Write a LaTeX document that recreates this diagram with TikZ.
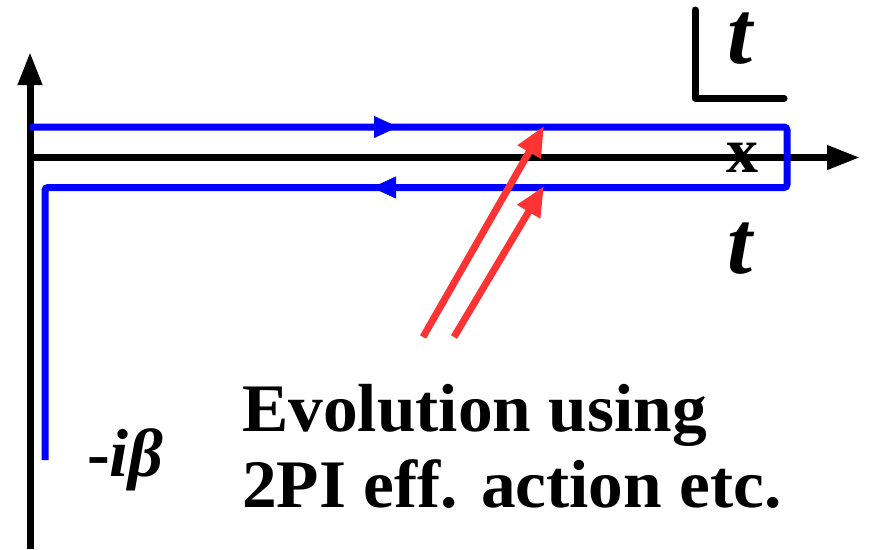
\documentclass[tikz,border=0pt]{standalone}
\usepackage{fontspec}
\setmainfont{Liberation Serif}
\usetikzlibrary{arrows.meta}
\definecolor{contour}{RGB}{0,0,255}
\definecolor{pointer}{RGB}{255,51,51}
\begin{document}
\begin{tikzpicture}[x=1pt,y=-1pt,
  axis/.style={line width=7pt,black,-{Triangle[length=33pt,width=23pt]}},
  contourline/.style={line width=7pt,contour,rounded corners=3pt},
  flowtip/.style={contour,-{Triangle[length=24pt,width=22pt]}},
  pointerarrow/.style={line width=7pt,pointer,-{Triangle[length=30pt,width=25pt]}},
  label/.style={inner sep=0pt,anchor=base west},
  bigtext/.style={label,font=\fontsize{68}{68}\selectfont\bfseries,xscale=1.02}]
\useasboundingbox (0,0) rectangle (869,549);

% coordinate axes
\coordinate (vbot) at (30,549);
\coordinate (vtop) at (30,52);
\coordinate (hstart) at (30,157.5);
\coordinate (hend) at (860,157.5);
\draw[axis] (vbot) -- (vtop);
\draw[axis] (hstart) -- (hend);

% closed time path
\coordinate (c0) at (30,127);
\coordinate (c1) at (787,127);
\coordinate (c2) at (787,187.5);
\coordinate (c3) at (45,187.5);
\coordinate (c4) at (45,460);
\draw[contourline] (c0) -- (c1) -- (c2) -- (c3) -- (c4);

% direction marks on the two branches
\coordinate (f0) at (372,127);
\coordinate (f1) at (398,127);
\coordinate (b0) at (398,187.5);
\coordinate (b1) at (372,187.5);
\draw[flowtip] (f0) -- (f1);
\draw[flowtip] (b0) -- (b1);

% corner symbol with t
\coordinate (k0) at (695,10);
\coordinate (k1) at (695,98);
\coordinate (k2) at (784,98);
\draw[line width=7pt,line join=round,line cap=round] (k0) -- (k1) -- (k2);
\node[label,text height=52pt,text depth=0pt,font=\fontsize{90}{90}\selectfont\bfseries\itshape] (ttop) at (727,63) {t};

\node[label,font=\fontsize{64}{64}\selectfont\bfseries] (xmark) at (726,172.5) {x};
\node[label,font=\fontsize{90}{90}\selectfont\bfseries\itshape] (tbot) at (727,273) {t};

\node[label,font=\fontsize{68}{68}\selectfont\bfseries] (beta) at (87,476) {-\textit{i\char"03B2}};

% explanatory text and pointers
\node[bigtext] (line1) at (242,431) {Evolution using};
\node[bigtext] (line2) at (242,507) {2PI eff. action etc.};

\coordinate (p1s) at (423,337);
\coordinate (p1e) at (544,126);
\coordinate (p2s) at (454,337);
\coordinate (p2e) at (544,186);
\draw[pointerarrow] (p1s) -- (p1e);
\draw[pointerarrow] (p2s) -- (p2e);
\end{tikzpicture}
\end{document}
